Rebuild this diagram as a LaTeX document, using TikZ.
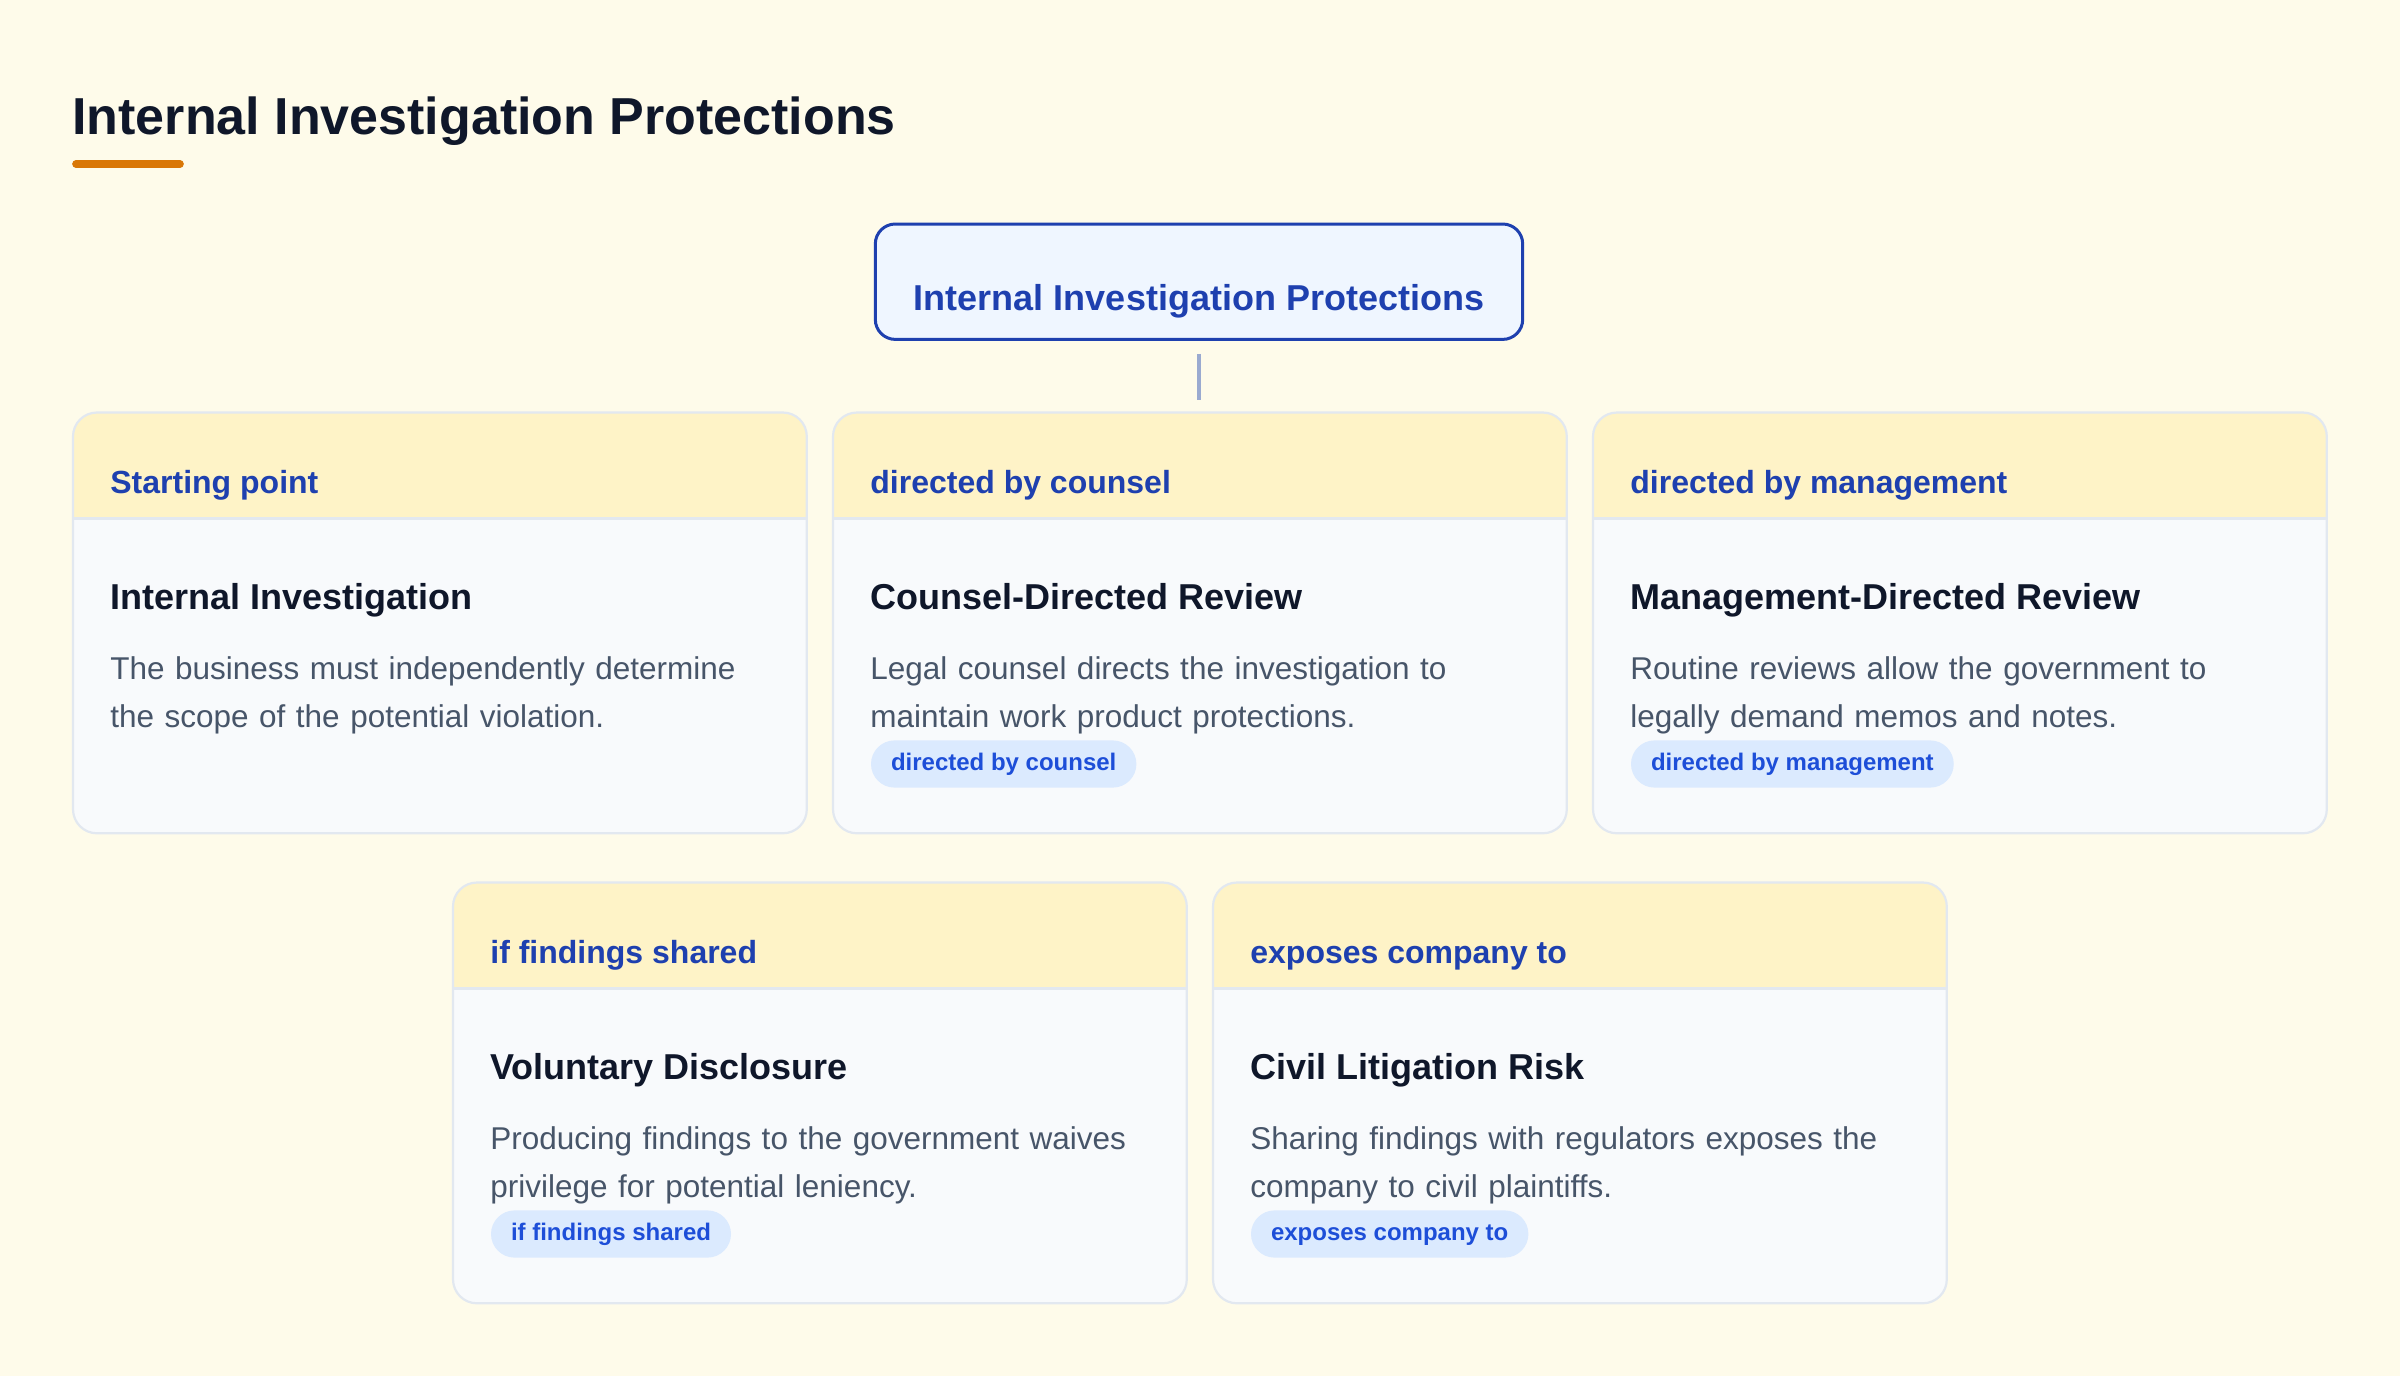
\documentclass[tikz,border=0pt]{standalone}
\usepackage{fontspec}
\setmainfont{Liberation Sans}
\usetikzlibrary{calc}
\definecolor{pagebg}{HTML}{FEFBEA}
\definecolor{cardbg}{HTML}{F8FAFC}
\definecolor{bandbg}{HTML}{FEF3C7}
\definecolor{cardline}{HTML}{E2E8F0}
\definecolor{ink}{HTML}{0F172A}
\definecolor{mute}{HTML}{475569}
\definecolor{navy}{HTML}{1E40AF}
\definecolor{tagfg}{HTML}{1D4ED8}
\definecolor{tagbg}{HTML}{DBEAFE}
\definecolor{rootbg}{HTML}{EFF6FF}
\definecolor{linkc}{HTML}{9AAAD0}
\definecolor{accent}{HTML}{D97706}
\tikzset{%
card/.style={rectangle,anchor=north west,minimum width=366.5pt,minimum height=210pt,rounded corners=12pt,fill=cardbg,inner sep=0pt},
rim/.style={draw=cardline,line width=1.1pt,rounded corners=12pt},
lab/.style={anchor=base west,inner sep=0pt,text=navy,font=\fontsize{16}{19}\selectfont\bfseries},
head/.style={anchor=base west,inner sep=0pt,text=ink,font=\fontsize{18}{22}\selectfont\bfseries},
desc/.style={anchor=north west,inner sep=0pt,text=mute,text width=340pt,align=left,font=\fontsize{15.75}{24}\selectfont,execute at begin node=\strut},
tag/.style={anchor=north west,rounded corners=11.8pt,fill=tagbg,text=tagfg,inner xsep=10pt,inner ysep=0pt,minimum height=23.6pt,text height=9pt,text depth=2.6pt,font=\fontsize{12}{14}\selectfont\bfseries},
root/.style={draw=navy,line width=1.5pt,fill=rootbg,rounded corners=10pt,minimum width=323.7pt,minimum height=57.7pt,inner sep=0pt,text=navy,text height=29.4pt,text depth=1pt,font=\fontsize{18}{22}\selectfont\bfseries},
link/.style={draw=linkc,line width=2pt,shorten <=6.5pt,shorten >=6.5pt}
}

\begin{document}
\begin{tikzpicture}[x=0.5pt,y=-0.5pt]
\fill[pagebg] (0,0) rectangle (2400,1376);
%%
\node[anchor=base west,inner sep=0pt,text=ink,font=\fontsize{26}{31}\selectfont\bfseries] (Title) at (72,134.5) {Internal Investigation Protections};
\draw[accent,line width=3.85pt,line cap=round] (76,164) -- (180,164);
%%
\node[root] (Root) at (1199,281.7) {Internal Investigation Protections};
%%
\foreach \name/\x/\y/\lab/\head/\lineA/\lineB in {%
      IntInv/73/412.5/Starting point/Internal Investigation/The business must independently determine/the scope of the potential violation.,
      CounRev/833/412.5/directed by counsel/Counsel-Directed Review/Legal counsel directs the investigation to/maintain work product protections.,
      MgmtRev/1593/412.5/directed by management/Management-Directed Review/Routine reviews allow the government to/legally demand memos and notes.,
      VolDisc/453/882.5/if findings shared/Voluntary Disclosure/Producing findings to the government waives/privilege for potential leniency.,
      CivLit/1213/882.5/exposes company to/Civil Litigation Risk/Sharing findings with regulators exposes the/company to civil plaintiffs.%
                                              }
{
  \node[card] (\name) at (\x,\y) {};
  \begin{scope}
    \clip[rounded corners=12pt] (\name.north west) rectangle (\name.south east);
    \fill[bandbg] (\name.north west) rectangle ([yshift=-53pt]\name.north east);
  \end{scope}
  \draw[cardline,line width=1.1pt] ([yshift=-53pt]\name.north west) -- ([yshift=-53pt]\name.north east);
  \draw[rim] (\name.north west) rectangle (\name.south east);
  \node[lab]  (\name-lab)  at ([shift={(18.5pt,-40.5pt)}]\name.north west)  {\lab};
  \node[head] (\name-head) at ([shift={(18.5pt,-98.5pt)}]\name.north west)  {\head};
  \node[desc] (\name-desc) at ([shift={(18.5pt,-116.7pt)}]\name.north west) {\lineA\\\lineB};
}
%%
\foreach \name/\tagtext in {CounRev/directed by counsel,MgmtRev/directed by management,
                            VolDisc/if findings shared,CivLit/exposes company to}
     \node[tag] (\name-tag) at ([shift={(18.8pt,-163.75pt)}]\name.north west) {\tagtext};
%%
\draw[link] (Root.south) -- (Root.south |- CounRev.north);
\end{tikzpicture}
\end{document}
